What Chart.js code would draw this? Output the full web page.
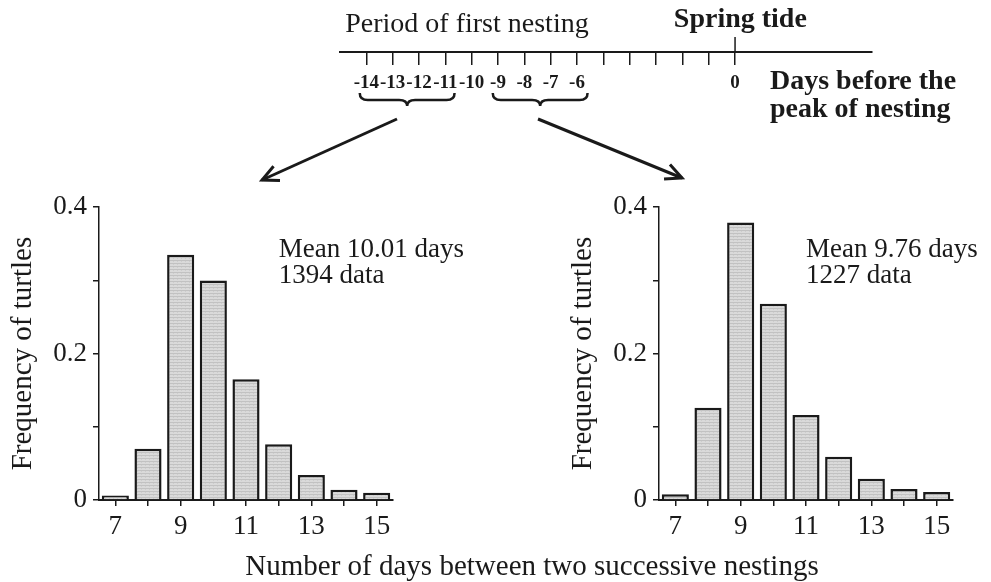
<!DOCTYPE html>
<html>
<head>
<meta charset="utf-8">
<script src="https://cdn.jsdelivr.net/npm/chart.js@4.4.1/dist/chart.umd.min.js"></script>
<style>
  body { margin: 0; background: #fff; }
  #wrap { position: relative; width: 991px; height: 582px; overflow: hidden; background: #fff; }
  canvas { position: absolute; }
  #xTitle {
    position: absolute; left: 532px; top: 551px; transform: translateX(-50%);
    font: 29px 'Liberation Serif', serif; line-height: 29px; white-space: nowrap; color: #1a1a1a;
  }
</style>
</head>
<body>
<div id="wrap">
  <canvas id="timeline" width="991" height="185" style="left:0;top:0"></canvas>
  <canvas id="histLeft" width="555" height="365" style="left:0;top:185px"></canvas>
  <canvas id="histRight" width="431" height="365" style="left:560px;top:185px"></canvas>
  <div id="xTitle">Number of days between two successive nestings</div>
</div>
<script>
// histogram data
const days = ['7', '8', '9', '10', '11', '12', '13', '14', '15'];
const labelledDays = ['7', '9', '11', '13', '15'];
const earlyFreq = [0.006, 0.070, 0.335, 0.300, 0.165, 0.076, 0.034, 0.014, 0.010];
const lateFreq = [0.008, 0.126, 0.379, 0.268, 0.116, 0.059, 0.029, 0.015, 0.011];
const freqTickLabels = ['0', '', '0.2', '', '0.4'];
const earlyNote = ['Mean 10.01 days', '1394 data'];
const lateNote = ['Mean 9.76 days', '1227 data'];

// timeline data
const timelineDays = [-14, -13, -12, -11, -10, -9, -8, -7, -6, -5, -4, -3, -2, -1, 0];
const timelineLabels = ['-14', '-13', '-12', '-11', '-10', '-9', '-8', '-7', '-6', '', '', '', '', '', '0'];
const springTide = [{ x: 0, y: 0 }, { x: 0, y: 1 }];

const INK = '#1a1a1a';
const SERIF = "'Liberation Serif', serif";
Chart.defaults.font.family = SERIF;
Chart.defaults.color = INK;

function barPattern() {
    const c = document.createElement('canvas');
    c.width = 4; c.height = 3;
    const g = c.getContext('2d');
    g.fillStyle = '#dadada'; g.fillRect(0, 0, 4, 3);
    g.fillStyle = '#c2c2c2'; g.fillRect(0, 0, 4, 1);
    g.fillStyle = '#cdcdcd'; g.fillRect(1, 1, 1, 1);
    return g.createPattern(c, 'repeat');
}

const notePlugin = {
    id: 'note',
    afterDatasetsDraw(chart, args, opts) {
        const { ctx, scales: { x, y } } = chart;
        ctx.save();
        ctx.font = '27px ' + SERIF;
        ctx.fillStyle = INK;
        ctx.textAlign = 'left';
        ctx.textBaseline = 'alphabetic';
        const left = x.getPixelForValue(opts.atIndex);
        opts.lines.forEach((t, i) => ctx.fillText(t, left, y.getPixelForValue(opts.yValues[i])));
        ctx.restore();
    }
};

function makeHist(id, values, note, atIndex, padRight) {
    return new Chart(document.getElementById(id), {
        type: 'bar',
        data: {
            labels: days,
            datasets: [{
                data: values,
                backgroundColor: barPattern(),
                borderColor: INK,
                borderWidth: 2.5,
                barPercentage: 0.83,
                categoryPercentage: 1
            }]
        },
        options: {
            responsive: false,
            animation: false,
            layout: { padding: { top: 22, right: padRight, left: 0, bottom: 0 } },
            plugins: {
                legend: { display: false },
                tooltip: { enabled: false },
                note: { lines: note, atIndex: atIndex, yValues: [0.332, 0.296] }
            },
            scales: {
                x: {
                    offset: true,
                    grid: { offset: false, drawOnChartArea: false, drawTicks: true, tickLength: 6, color: INK, lineWidth: 1.5 },
                    border: { color: INK, width: 2 },
                    ticks: {
                        font: { size: 27 },
                        padding: 5,
                        autoSkip: false,
                        maxRotation: 0,
                        callback: (v, i) => labelledDays.includes(days[i]) ? days[i] : ''
                    },
                    afterFit: s => { s.height = 50; }
                },
                y: {
                    min: 0,
                    max: 0.4,
                    grid: { drawOnChartArea: false, drawTicks: true, tickLength: 6, color: INK, lineWidth: 1.5 },
                    border: { color: INK, width: 1.5 },
                    ticks: {
                        stepSize: 0.1,
                        font: { size: 27 },
                        padding: 6,
                        callback: (v, i) => freqTickLabels[i]
                    },
                    title: {
                        display: true,
                        text: 'Frequency of turtles',
                        font: { size: 29 },
                        padding: { top: 6, bottom: 0 }
                    },
                    afterFit: s => { s.width = 99; }
                }
            }
        },
        plugins: [notePlugin]
    });
}

makeHist('histLeft', earlyFreq, earlyNote, 5, 162);
makeHist('histRight', lateFreq, lateNote, 4, 38);

function drawBrace(ctx, x0, x1, top, mid, tip) {
    const xm = (x0 + x1) / 2, r = 8;
    ctx.beginPath();
    ctx.moveTo(x0, top);
    ctx.quadraticCurveTo(x0, mid, x0 + r, mid);
    ctx.lineTo(xm - r, mid);
    ctx.quadraticCurveTo(xm, mid, xm, tip);
    ctx.quadraticCurveTo(xm, mid, xm + r, mid);
    ctx.lineTo(x1 - r, mid);
    ctx.quadraticCurveTo(x1, mid, x1, top);
    ctx.stroke();
}

function drawArrow(ctx, x0, y0, x1, y1) {
    ctx.beginPath();
    ctx.moveTo(x0, y0);
    ctx.lineTo(x1, y1);
    ctx.stroke();
    const a = Math.atan2(y1 - y0, x1 - x0), L = 18, s = 0.45;
    ctx.beginPath();
    ctx.moveTo(x1 - L * Math.cos(a - s), y1 - L * Math.sin(a - s));
    ctx.lineTo(x1, y1);
    ctx.lineTo(x1 - L * Math.cos(a + s), y1 - L * Math.sin(a + s));
    ctx.stroke();
}

const timelinePlugin = {
    id: 'timelineDeco',
    afterDraw(chart) {
        const { ctx, scales: { x } } = chart;
        const px = v => x.getPixelForValue(v);
        ctx.save();
        ctx.fillStyle = INK;
        ctx.strokeStyle = INK;
        ctx.textBaseline = 'alphabetic';
        ctx.font = '28px ' + SERIF;
        ctx.textAlign = 'left';
        ctx.fillText('Period of first nesting', px(-14.8), 32);
        ctx.font = 'bold 28px ' + SERIF;
        ctx.textAlign = 'center';
        ctx.fillText('Spring tide', px(0.2), 27);
        ctx.textAlign = 'left';
        ctx.fillText('Days before the', 770, 89);
        ctx.fillText('peak of nesting', 770, 117);

        ctx.lineWidth = 2.5;
        drawBrace(ctx, px(-14.25), px(-10.65), 93, 100, 106);
        drawBrace(ctx, px(-9.2), px(-5.6), 93, 100, 106);

        ctx.lineWidth = 3;
        drawArrow(ctx, 397, 119, 262, 180);
        drawArrow(ctx, 538, 119, 682, 178);
        ctx.restore();
    }
};

new Chart(document.getElementById('timeline'), {
    type: 'line',
    data: {
        datasets: [{
            data: springTide,
            borderColor: INK,
            borderWidth: 1.5,
            pointRadius: 0,
            clip: false
        }]
    },
    options: {
        responsive: false,
        animation: false,
        layout: { padding: { top: 37, left: 340, right: 119, bottom: 0 } },
        plugins: { legend: { display: false }, tooltip: { enabled: false } },
        scales: {
            x: {
                type: 'linear',
                position: 'bottom',
                min: -15,
                max: 5.2,
                afterBuildTicks: s => { s.ticks = timelineDays.map(v => ({ value: v })); },
                grid: { drawOnChartArea: false, drawTicks: true, tickLength: 13, color: INK, lineWidth: 1.5 },
                border: { color: INK, width: 2 },
                ticks: {
                    autoSkip: false,
                    maxRotation: 0,
                    padding: 7,
                    font: { size: 19, weight: 'bold' },
                    callback: (v, i) => timelineLabels[i]
                },
                afterFit: s => { s.height = 133; }
            },
            y: { display: false, min: 0, max: 1 }
        }
    },
    plugins: [timelinePlugin]
});
</script>
</body>
</html>
